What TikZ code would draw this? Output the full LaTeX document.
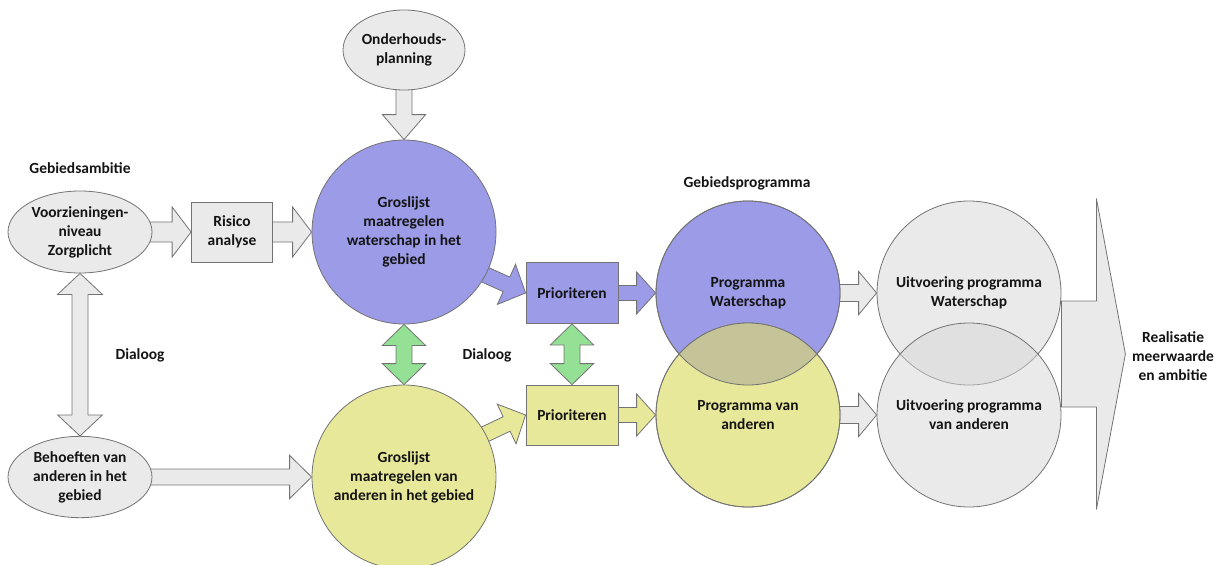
\documentclass[tikz,border=0pt]{standalone}
\usepackage{fontspec}
\setmainfont{Carlito}
\usetikzlibrary{calc,shapes.geometric}
\pgfdeclarelayer{bg}
\pgfsetlayers{bg,main}
\definecolor{linegray}{RGB}{115,115,115}
\definecolor{shapegray}{RGB}{234,234,234}
\definecolor{bluefill}{RGB}{155,155,232}
\definecolor{yellowfill}{RGB}{232,232,154}
\definecolor{greenfill}{RGB}{148,224,148}
\definecolor{overlapfill}{RGB}{196,196,152}
\definecolor{txt}{RGB}{20,20,20}

% block arrow: style, start, tip, shaft half width, head half width, head length
\newcommand{\blockarrow}[6]{%
  \begin{pgfonlayer}{bg}
  \coordinate (ba-c) at ($(#3)!#6!(#2)$);
  \draw[#1] ($(#2)!#4!90:(#3)$) -- ($(ba-c)!#4!90:(#3)$) -- ($(ba-c)!#5!90:(#3)$) -- (#3)
    -- ($(ba-c)!#5!-90:(#3)$) -- ($(ba-c)!#4!-90:(#3)$) -- ($(#2)!#4!-90:(#3)$) -- cycle;
  \end{pgfonlayer}}
% double block arrow: style, end A, end B, shaft half width, head half width, head length
\newcommand{\dblarrow}[6]{%
  \begin{pgfonlayer}{bg}
  \coordinate (da-a) at ($(#2)!#6!(#3)$);
  \coordinate (da-b) at ($(#3)!#6!(#2)$);
  \draw[#1] (#2) -- ($(da-a)!#5!90:(#3)$) -- ($(da-a)!#4!90:(#3)$) -- ($(da-b)!#4!-90:(#2)$)
    -- ($(da-b)!#5!-90:(#2)$) -- (#3) -- ($(da-b)!#5!90:(#2)$) -- ($(da-b)!#4!90:(#2)$)
    -- ($(da-a)!#4!-90:(#3)$) -- ($(da-a)!#5!-90:(#3)$) -- cycle;
  \end{pgfonlayer}}

\tikzset{
  base/.style={draw=linegray, line width=0.6pt, text=txt,
    font=\bfseries\fontsize{11.6}{14.2}\selectfont, align=center, inner sep=0pt},
  ell/.style={base, ellipse, fill=shapegray},
  bigc/.style={base, circle, minimum size=138pt},
  boxs/.style={base, rectangle},
  lbl/.style={text=txt, font=\bfseries\fontsize{11.6}{14.2}\selectfont, align=center, inner sep=0pt},
  grayarrow/.style={draw=linegray, fill=shapegray, line width=0.6pt},
  bluearrow/.style={draw=linegray, fill=bluefill, line width=0.6pt},
  yellowarrow/.style={draw=linegray, fill=yellowfill, line width=0.6pt},
  greenarrow/.style={draw=linegray, fill=greenfill, line width=0.6pt}
}

\begin{document}
\begin{tikzpicture}[x=0.75pt,y=-0.75pt]
\useasboundingbox (0,0) rectangle (1217,564);

% labels
\node[lbl] (lgeb) at (80,168) {Gebiedsambitie};
\node[lbl] (ldia1) at (140,355) {Dialoog};
\node[lbl] (ldia2) at (487,355) {Dialoog};
\node[lbl] (lprog) at (747,183) {Gebiedsprogramma};
\node[lbl] (lreal) at (1173,356) {Realisatie\\meerwaarde\\en ambitie};

% left column
\node[ell, minimum width=108pt, minimum height=61.5pt] (voor) at (80,232) {Voorzieningen-\\niveau\\Zorgplicht};
\node[ell, minimum width=108pt, minimum height=61pt] (beh) at (80,477) {Behoeften van\\anderen in het\\gebied};
\node[boxs, fill=shapegray, minimum width=60.75pt, minimum height=45pt] (risico) at (232,232) {Risico\\analyse};
\node[ell, minimum width=91.5pt, minimum height=60pt] (onder) at (404,50) {Onderhouds-\\planning};

% groslijst circles
\node[bigc, fill=bluefill] (gros1) at (404,232) {Groslijst\\maatregelen\\waterschap in het\\gebied};
\node[bigc, fill=yellowfill] (gros2) at (404,477) {Groslijst\\maatregelen van\\anderen in het gebied};

% prioriteren boxes
\node[boxs, fill=bluefill, minimum width=69pt, minimum height=45.75pt] (prio1) at (572,293) {Prioriteren};
\node[boxs, fill=yellowfill, minimum width=69pt, minimum height=45pt] (prio2) at (572,415) {Prioriteren};

% programma circles
\node[bigc, fill=bluefill] (progW) at (748,293) {Programma\\Waterschap};
\node[bigc, fill=yellowfill] (progA) at (748,415) {Programma van\\anderen};
\begin{scope}
  \clip (progW.center) circle (69pt);
  \fill[overlapfill] (progA.center) circle (69pt);
\end{scope}
\draw[draw=linegray, line width=0.6pt] (progW.center) circle (69pt);
\draw[draw=linegray, line width=0.6pt] (progA.center) circle (69pt);

% uitvoering circles
\node[bigc, fill=black!16, fill opacity=0.5, text opacity=1] (uitW) at (969,293) {Uitvoering programma\\Waterschap};
\node[bigc, fill=black!16, fill opacity=0.5, text opacity=1] (uitA) at (969,415) {Uitvoering programma\\van anderen};

% helper coordinates
\coordinate (v1) at ($(voor.east)+(-4,0)$);
\coordinate (r1) at ($(risico.east)+(-1,0)$);
\coordinate (o1) at ($(onder.south)+(0,-4)$);
\coordinate (b1) at ($(beh.east)+(-4,0)$);
\coordinate (g1) at ($(gros1.center)!0.93!(gros1.-28)$);
\coordinate (g2) at ($(gros2.center)!0.93!(gros2.28)$);
\coordinate (p1) at ($(prio1.east)+(-1,0)$);
\coordinate (p2) at ($(prio2.east)+(-1,0)$);
\coordinate (w1) at ($(progW.east)+(-3,0)$);
\coordinate (a1) at ($(progA.east)+(-3,0)$);
\coordinate (bigs) at ($(uitW.east)!0.5!(uitA.east)$);
\coordinate (bigt) at ($(bigs)+(64,0)$);

% arrows
\blockarrow{grayarrow}{v1}{risico.west}{7.5pt}{18.75pt}{14.25pt}
\blockarrow{grayarrow}{r1}{gros1.west}{7.5pt}{18.75pt}{14.25pt}
\blockarrow{grayarrow}{o1}{gros1.north}{6pt}{16.2pt}{18.75pt}
\blockarrow{grayarrow}{b1}{gros2.west}{6pt}{16.2pt}{16.5pt}
\blockarrow{bluearrow}{g1}{prio1.west}{6pt}{16.5pt}{15.75pt}
\blockarrow{yellowarrow}{g2}{prio2.west}{6pt}{16.5pt}{15.75pt}
\blockarrow{bluearrow}{p1}{progW.west}{5.6pt}{15.75pt}{14.25pt}
\blockarrow{yellowarrow}{p2}{progA.west}{5.6pt}{15.75pt}{14.25pt}
\blockarrow{grayarrow}{w1}{uitW.west}{6.4pt}{16.2pt}{13.5pt}
\blockarrow{grayarrow}{a1}{uitA.west}{6.4pt}{16.2pt}{13.5pt}
\blockarrow{grayarrow}{bigs}{bigt}{39.75pt}{116.6pt}{21.75pt}

\dblarrow{greenarrow}{gros1.south}{gros2.north}{6pt}{16.2pt}{15.75pt}
\dblarrow{greenarrow}{prio1.south}{prio2.north}{6pt}{16.2pt}{15.75pt}
\dblarrow{grayarrow}{voor.south}{beh.north}{6pt}{16.8pt}{15.75pt}
\end{tikzpicture}
\end{document}
